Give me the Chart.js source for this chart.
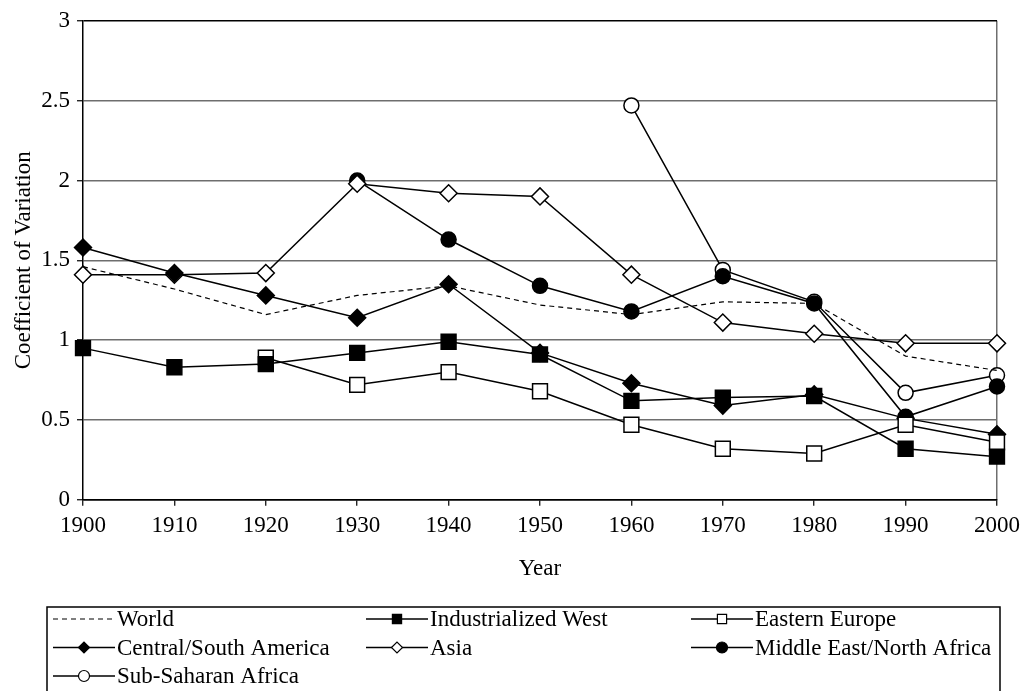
<!DOCTYPE html>
<html>
<head>
<meta charset="utf-8">
<script src="https://cdn.jsdelivr.net/npm/chart.js@4"></script>
<style>
  html, body { margin: 0; padding: 0; background: #fff; }
  #wrap { width: 1030px; height: 691px; }
</style>
</head>
<body>
<div id="wrap"><canvas id="cvChart" width="1030" height="691"></canvas></div>
<script>
const years = ['1900', '1910', '1920', '1930', '1940', '1950', '1960', '1970', '1980', '1990', '2000'];
const yTicks = [0, 0.5, 1, 1.5, 2, 2.5, 3];
const yTickLabels = ['0', '0.5', '1', '1.5', '2', '2.5', '3'];

const world        = [1.46, 1.32, 1.16, 1.28, 1.34, 1.22, 1.16, 1.24, 1.23, 0.90, 0.81];
const indWest      = [0.95, 0.83, 0.85, 0.92, 0.99, 0.91, 0.62, 0.64, 0.65, 0.32, 0.27];
const eastEurope   = [null, null, 0.89, 0.72, 0.80, 0.68, 0.47, 0.32, 0.29, 0.47, 0.36];
const centralSouth = [1.58, 1.42, 1.28, 1.14, 1.35, 0.92, 0.73, 0.59, 0.66, 0.51, 0.41];
const asia         = [1.41, 1.41, 1.42, 1.98, 1.92, 1.90, 1.41, 1.11, 1.04, 0.98, 0.98];
const middleEast   = [null, null, null, 2.00, 1.63, 1.34, 1.18, 1.40, 1.23, 0.52, 0.71];
const subSaharan   = [null, null, null, null, null, null, 2.47, 1.44, 1.24, 0.67, 0.78];

const FONT = 'Liberation Serif';

function series(label, data, style, fill, radius) {
    return {
        label: label,
        data: data,
        borderColor: '#000',
        borderWidth: 1.5,
        tension: 0,
        pointStyle: style,
        pointRadius: radius,
        pointHoverRadius: radius,
        pointBackgroundColor: fill,
        pointBorderColor: '#000',
        pointBorderWidth: 1.5
    };
}

const datasets = [
    {
        label: 'World',
        data: world,
        borderColor: '#000',
        borderWidth: 1.2,
        borderDash: [5, 4],
        tension: 0,
        pointRadius: 0,
        pointStyle: false
    },
    series('Industrialized West', indWest, 'rect', '#000', 10.5),
    series('Eastern Europe', eastEurope, 'rect', '#fff', 10.5),
    series('Central/South America', centralSouth, 'rectRot', '#000', 8.5),
    series('Asia', asia, 'rectRot', '#fff', 8.5),
    series('Middle East/North Africa', middleEast, 'circle', '#000', 7.5),
    series('Sub-Saharan Africa', subSaharan, 'circle', '#fff', 7.5)
];

// legend drawn as a 3-column grid inside a box, like the original
const gridLegend = {
    id: 'gridLegend',
    afterDraw(chart) {
        const ctx = chart.ctx;
        const colText = [117, 430, 755];
        const rowY = [619, 647.5, 676];
        ctx.save();
        ctx.strokeStyle = '#000';
        ctx.lineWidth = 1.5;
        ctx.strokeRect(47, 607, 953, 100);
        ctx.font = '23px "' + FONT + '"';
        ctx.textBaseline = 'middle';
        ctx.fillStyle = '#000';
        chart.data.datasets.forEach((ds, i) => {
            const x = colText[i % 3];
            const y = rowY[Math.floor(i / 3)];
            ctx.beginPath();
            ctx.lineWidth = ds.borderWidth;
            ctx.setLineDash(ds.borderDash || []);
            ctx.moveTo(x - 64, y);
            ctx.lineTo(x - 2, y);
            ctx.stroke();
            ctx.setLineDash([]);
            if (ds.pointStyle) {
                ctx.fillStyle = ds.pointBackgroundColor;
                ctx.strokeStyle = '#000';
                ctx.lineWidth = 1.2;
                Chart.helpers.drawPoint(ctx, {
                    pointStyle: ds.pointStyle,
                    radius: ds.pointStyle === 'rect' ? 6.5 : 5.5,
                    borderWidth: 1.2,
                    rotation: 0
                }, x - 33, y);
            }
            ctx.fillStyle = '#000';
            ctx.fillText(ds.label, x, y + 1);
        });
        ctx.restore();
    }
};

const ctx = document.getElementById('cvChart').getContext('2d');
const chart = new Chart(ctx, {
    type: 'line',
    data: { labels: years, datasets: datasets },
    options: {
        responsive: false,
        animation: false,
        devicePixelRatio: 1,
        layout: { padding: { top: 17, right: 33, bottom: 108, left: 0 } },
        plugins: {
            legend: { display: false },
            tooltip: { enabled: false }
        },
        scales: {
            x: {
                offset: false,
                grid: {
                    drawOnChartArea: true,
                    color: (c) => c.index === years.length - 1 ? '#6e6e6e' : 'rgba(0,0,0,0)',
                    lineWidth: 1.5,
                    tickLength: 6,
                    tickColor: '#000',
                    tickWidth: 1.2
                },
                border: { color: '#000', width: 1.5 },
                ticks: {
                    color: '#000',
                    font: { family: FONT, size: 23 },
                    padding: 6,
                    maxRotation: 0,
                    autoSkip: false
                },
                title: {
                    display: true,
                    text: 'Year',
                    color: '#000',
                    font: { family: FONT, size: 23 },
                    padding: { top: 10, bottom: 0 }
                }
            },
            y: {
                min: 0,
                max: 3,
                afterFit: (scale) => { scale.width = 83; },
                afterBuildTicks: (scale) => {
                    scale.ticks = yTicks.map(v => ({ value: v }));
                },
                grid: {
                    color: (c) => (c.tick && (c.tick.value === 0 || c.tick.value === 3)) ? '#000' : '#6e6e6e',
                    lineWidth: 1.5,
                    tickLength: 6,
                    tickColor: '#000',
                    tickWidth: 1.2
                },
                border: { color: '#000', width: 1.5 },
                ticks: {
                    color: '#000',
                    font: { family: FONT, size: 23 },
                    padding: 7,
                    callback: (value) => yTickLabels[yTicks.indexOf(value)]
                },
                title: {
                    display: true,
                    text: 'Coefficient of Variation',
                    color: '#000',
                    font: { family: FONT, size: 23 },
                    padding: { top: 10, bottom: 0 }
                }
            }
        }
    },
    plugins: [gridLegend]
});
</script>
</body>
</html>
